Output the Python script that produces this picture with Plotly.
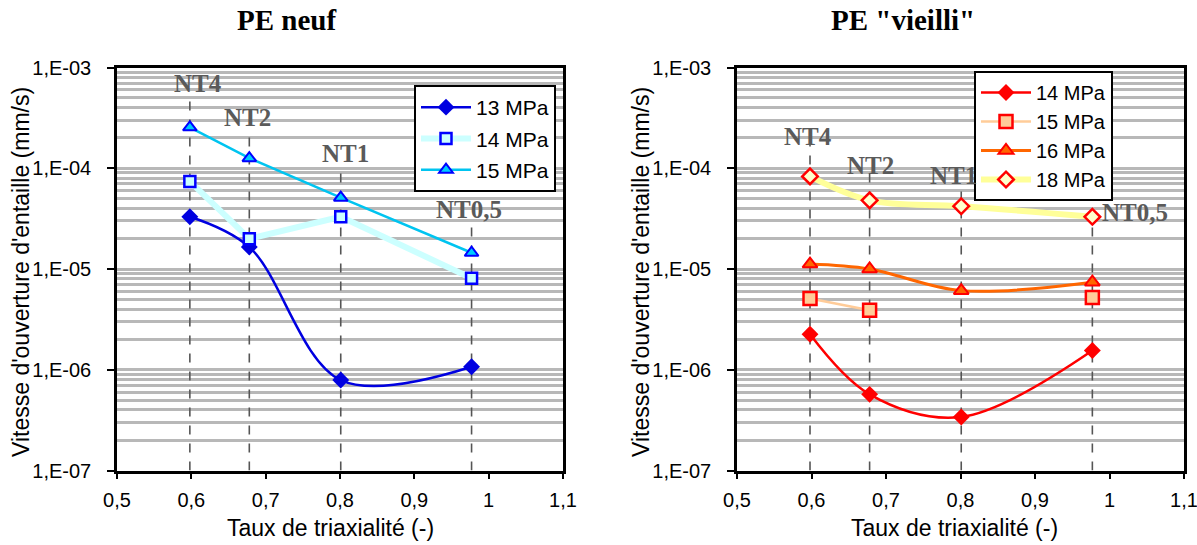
import math
import plotly.graph_objects as go

# ---------------- data ----------------
triax = [0.598, 0.678, 0.801, 0.977]
notch_names = ["NT4", "NT2", "NT1", "NT0,5"]

# PE neuf
neuf_13 = [3.3e-5, 1.65e-5, 7.9e-7, 1.07e-6]
neuf_14 = [7.4e-5, 2.0e-5, 3.3e-5, 8.1e-6]
neuf_15 = [2.55e-4, 1.26e-4, 5.1e-5, 1.45e-5]

# PE "vieilli"
vieil_14 = [2.25e-6, 5.7e-7, 3.4e-7, 1.55e-6]
vieil_15 = [5.1e-6, 3.9e-6, None, 5.2e-6]
vieil_16 = [1.12e-5, 1.0e-5, 6.1e-6, 7.4e-6]
vieil_18 = [8.3e-5, 4.8e-5, 4.2e-5, 3.3e-5]

# notch label positions (x, value) and top of dashed guides
neuf_label_x = [0.609, 0.676, 0.807, 0.974]
neuf_label_y = [7.0e-4, 3.2e-4, 1.4e-4, 3.9e-5]
neuf_guide_top = [5.6e-4, 2.4e-4, 1.07e-4, 2.9e-5]

vieil_label_x = [0.595, 0.679, 0.79, 1.034]
vieil_label_y = [2.05e-4, 1.07e-4, 8.5e-5, 3.6e-5]
vieil_guide_top = [1.7e-4, 8.8e-5, 7.1e-5, 5.1e-5]

x_ticks = [0.5, 0.6, 0.7, 0.8, 0.9, 1.0, 1.1]
x_ticktext = ["0,5", "0,6", "0,7", "0,8", "0,9", "1", "1,1"]
y_ticks = [1e-7, 1e-6, 1e-5, 1e-4, 1e-3]
y_ticktext = ["1,E-07", "1,E-06", "1,E-05", "1,E-04", "1,E-03"]
y_minor = [k * 10.0 ** e for e in range(-7, -3) for k in range(2, 10)]

x_title = "Taux de triaxialité (-)"
y_title = "Vitesse d'ouverture d'entaille (mm/s)"

W, H = 1197, 545

# ---------------- figure ----------------
fig = go.Figure()

# dashed guides
for xs, tops, xa, ya in [(triax, neuf_guide_top, "x", "y"), (triax, vieil_guide_top, "x2", "y2")]:
    for xv, top in zip(xs, tops):
        fig.add_trace(go.Scatter(x=[xv, xv], y=[1e-7, top], mode="lines",
                                 line=dict(color="#555555", width=1.6, dash="dash"),
                                 showlegend=False, hoverinfo="skip", xaxis=xa, yaxis=ya))

# PE neuf series
fig.add_trace(go.Scatter(x=triax, y=neuf_13, name="13 MPa", mode="lines+markers",
                         line=dict(color="#0000e0", width=2.5, shape="spline"),
                         marker=dict(symbol="diamond", size=13, color="#0000e0"),
                         xaxis="x", yaxis="y", legend="legend", legendgroup="a"))
fig.add_trace(go.Scatter(x=triax, y=neuf_14, name="14 MPa", mode="lines+markers",
                         line=dict(color="#ccffff", width=6),
                         marker=dict(symbol="square", size=11, color="#ccffff",
                                     line=dict(color="#0000ff", width=2.5)),
                         xaxis="x", yaxis="y", legend="legend", legendgroup="b"))
fig.add_trace(go.Scatter(x=triax, y=neuf_15, name="15 MPa", mode="lines+markers",
                         line=dict(color="#00c4f0", width=2.5),
                         marker=dict(symbol="triangle-up", size=12, color="#00ccff",
                                     line=dict(color="#0000ff", width=2)),
                         xaxis="x", yaxis="y", legend="legend", legendgroup="c"))

# PE vieilli series
fig.add_trace(go.Scatter(x=triax, y=vieil_14, name="14 MPa", mode="lines+markers",
                         line=dict(color="#ff0000", width=2.5, shape="spline"),
                         marker=dict(symbol="diamond", size=13, color="#ff0000"),
                         xaxis="x2", yaxis="y2", legend="legend2"))
fig.add_trace(go.Scatter(x=triax, y=vieil_15, name="15 MPa", mode="lines+markers",
                         line=dict(color="#ffcc99", width=2.5),
                         marker=dict(symbol="square", size=13, color="#ffcc99",
                                     line=dict(color="#ff0000", width=2.5)),
                         xaxis="x2", yaxis="y2", legend="legend2"))
fig.add_trace(go.Scatter(x=triax, y=vieil_16, name="16 MPa", mode="lines+markers",
                         line=dict(color="#ff6600", width=3, shape="spline"),
                         marker=dict(symbol="triangle-up", size=13, color="#ff6600",
                                     line=dict(color="#ff0000", width=2)),
                         xaxis="x2", yaxis="y2", legend="legend2"))
fig.add_trace(go.Scatter(x=triax, y=vieil_18, name="18 MPa", mode="lines+markers",
                         line=dict(color="#ffff99", width=6, shape="spline"),
                         marker=dict(symbol="diamond", size=12, color="#ffffcc",
                                     line=dict(color="#ff0000", width=2.5)),
                         xaxis="x2", yaxis="y2", legend="legend2"))

serif = "Liberation Serif, Times New Roman, serif"
sans = "Liberation Sans, Arial, sans-serif"

# notch labels
annotations = []
for lx, ly, txt in zip(neuf_label_x, neuf_label_y, notch_names):
    annotations.append(dict(x=lx, y=math.log10(ly), xref="x", yref="y", text="<b>%s</b>" % txt,
                            xanchor="center", yanchor="middle",
                            showarrow=False, font=dict(family=serif, size=25, color="#5a5a5a")))
for lx, ly, txt in zip(vieil_label_x, vieil_label_y, notch_names):
    annotations.append(dict(x=lx, y=math.log10(ly), xref="x2", yref="y2", text="<b>%s</b>" % txt,
                            xanchor="center", yanchor="middle",
                            showarrow=False, font=dict(family=serif, size=25, color="#5a5a5a")))
# panel titles
for cx, txt in ((286, "<b>PE neuf</b>"), (903, "<b>PE \"vieilli\"</b>")):
    annotations.append(dict(x=cx / W, y=1 - 20 / H, xref="paper", yref="paper", text=txt,
                            xanchor="center", yanchor="middle", showarrow=False,
                            font=dict(family=serif, size=29, color="black")))
# axis titles
title_font = dict(family=sans, size=23, color="black")
for cx in (330, 954):
    annotations.append(dict(x=cx / W, y=1 - 528 / H, xref="paper", yref="paper", text=x_title,
                            xanchor="center", yanchor="middle", showarrow=False, font=title_font))
for cx in (21, 641):
    annotations.append(dict(x=cx / W, y=1 - 272 / H, xref="paper", yref="paper", text=y_title,
                            xanchor="center", yanchor="middle", textangle=-90, showarrow=False,
                            font=title_font))

axis_font = dict(family=sans, size=20, color="black")


def xaxis_cfg(domain, anchor):
    return dict(domain=domain, anchor=anchor, range=[0.5, 1.1], tickvals=x_ticks, ticktext=x_ticktext,
                showgrid=False, zeroline=False, showline=True, linecolor="black", linewidth=2.5,
                mirror=True, ticks="outside", ticklen=6, tickwidth=2, tickcolor="black",
                tickfont=axis_font, automargin=False, ticklabelstandoff=4,
                ticklabeloverflow="allow")


def yaxis_cfg(domain, anchor):
    return dict(domain=domain, anchor=anchor, type="log", range=[-7, -3], tickvals=y_ticks,
                ticktext=y_ticktext, showgrid=True, gridcolor="#b8b8b8", gridwidth=3,
                minor=dict(tickvals=y_minor, showgrid=True, gridcolor="#b8b8b8", gridwidth=3, ticks=""),
                zeroline=False, showline=True, linecolor="black", linewidth=2.5, mirror=True,
                ticks="outside", ticklen=7, tickwidth=2, tickcolor="black", tickfont=axis_font,
                automargin=False, ticklabelstandoff=12, ticklabeloverflow="allow")


ydom = [1 - 470.5 / H, 1 - 67.5 / H]
legend_common = dict(bgcolor="white", bordercolor="black", borderwidth=2,
                     xanchor="left", yanchor="top", itemwidth=50)

fig.update_layout(
    width=W, height=H, margin=dict(l=0, r=0, t=0, b=0, pad=0),
    paper_bgcolor="white", plot_bgcolor="white",
    xaxis=xaxis_cfg([117 / W, 563 / W], "y"),
    yaxis=yaxis_cfg(ydom, "x"),
    xaxis2=xaxis_cfg([737 / W, 1184 / W], "y2"),
    yaxis2=yaxis_cfg(ydom, "x2"),
    legend=dict(x=414 / W, y=1 - 85 / H, tracegroupgap=1,
                font=dict(family=sans, size=21, color="black"), **legend_common),
    legend2=dict(x=974 / W, y=1 - 71 / H,
                 font=dict(family=sans, size=20, color="black"), **legend_common),
    annotations=annotations,
    showlegend=True,
)

fig.write_html("out.html", config={"displayModeBar": False},
               post_script="document.body.style.margin='0';document.body.style.overflow='hidden';")
